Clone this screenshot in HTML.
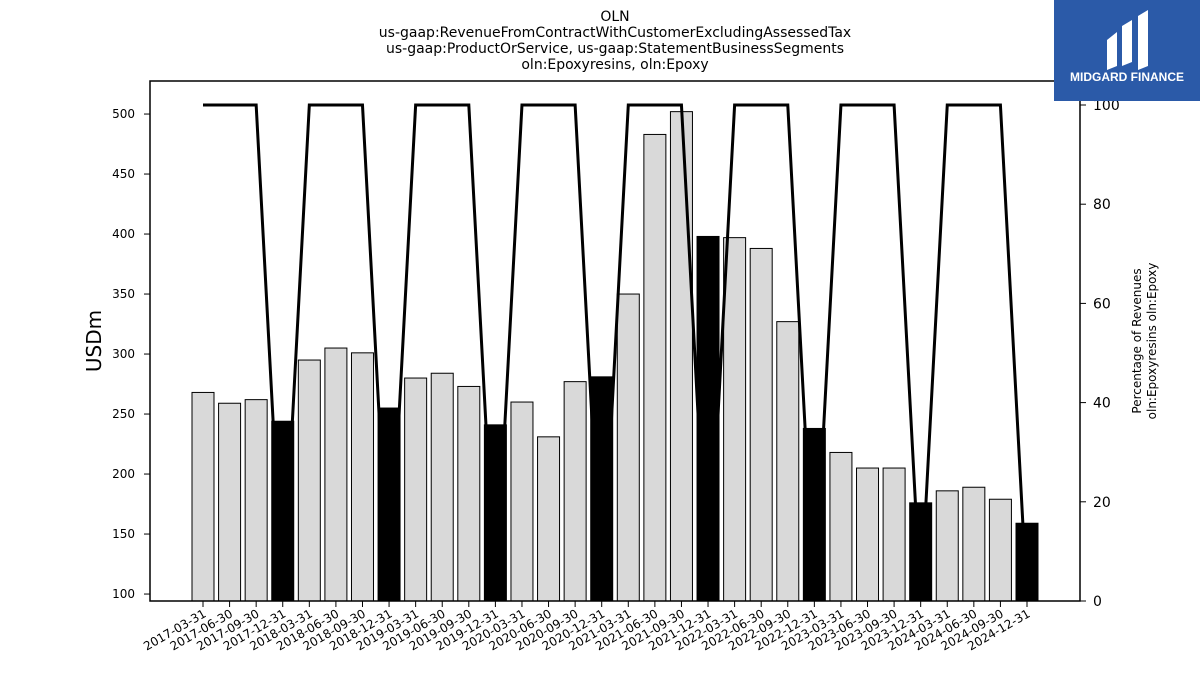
<!DOCTYPE html>
<html><head><meta charset="utf-8"><style>
body{margin:0;background:#fff;font-family:"Liberation Sans","DejaVu Sans",sans-serif;}
</style></head><body>
<svg width="1200" height="675" xmlns="http://www.w3.org/2000/svg">
<g font-family="DejaVu Sans, Liberation Sans, sans-serif" font-size="14" text-anchor="middle" fill="#000">
<text x="615" y="21">OLN</text>
<text x="615" y="37">us-gaap:RevenueFromContractWithCustomerExcludingAssessedTax</text>
<text x="615" y="53">us-gaap:ProductOrService, us-gaap:StatementBusinessSegments</text>
<text x="615" y="69">oln:Epoxyresins, oln:Epoxy</text>
</g>
<g id="bars"></g>
<g id="line"></g>
<rect x="150" y="81" width="930" height="520" fill="none" stroke="#000" stroke-width="1.5"/>
<g id="yl" font-family="DejaVu Sans, Liberation Sans, sans-serif" font-size="12"></g>
<g id="yr" font-family="DejaVu Sans, Liberation Sans, sans-serif" font-size="14"></g>
<g id="xl" font-family="DejaVu Sans, Liberation Sans, sans-serif" font-size="12"></g>
<text x="101" y="341" font-size="20" font-family="DejaVu Sans, Liberation Sans, sans-serif" text-anchor="middle" transform="rotate(-90 101 341)">USDm</text>
<g font-family="DejaVu Sans, Liberation Sans, sans-serif" font-size="12" text-anchor="middle">
<text transform="translate(1141,341) rotate(-90)">Percentage of Revenues</text>
<text transform="translate(1156,341) rotate(-90)">oln:Epoxyresins oln:Epoxy</text>
</g>
<g>
<rect x="1054" y="0" width="146" height="101" fill="#2b5aa8"/>
<path d="M1107 40 L1117 32 L1117 66 L1107 70 Z M1122 26 L1132 20 L1132 62 L1122 66 Z M1138 16 L1148 10 L1148 66 L1138 70 Z" fill="#fff"/>
<text x="1127" y="81" font-size="12" font-weight="bold" fill="#fff" text-anchor="middle" font-family="Liberation Sans, sans-serif">MIDGARD FINANCE</text>
</g>
</svg>
<script>
const categories=["2017-03-31","2017-06-30","2017-09-30","2017-12-31","2018-03-31","2018-06-30","2018-09-30","2018-12-31","2019-03-31","2019-06-30","2019-09-30","2019-12-31","2020-03-31","2020-06-30","2020-09-30","2020-12-31","2021-03-31","2021-06-30","2021-09-30","2021-12-31","2022-03-31","2022-06-30","2022-09-30","2022-12-31","2023-03-31","2023-06-30","2023-09-30","2023-12-31","2024-03-31","2024-06-30","2024-09-30","2024-12-31"];
const revenue=[268,259,262,244,295,305,301,255,280,284,273,241,260,231,277,281,350,483,502,398,397,388,327,238,218,205,205,176,186,189,179,159];
const percent=[100,100,100,0,100,100,100,0,100,100,100,0,100,100,100,0,100,100,100,0,100,100,100,0,100,100,100,0,100,100,100,0];
const leftTicks=[100,150,200,250,300,350,400,450,500];
const rightTicks=[0,20,40,60,80,100];
const NS="http://www.w3.org/2000/svg";
const xs=i=>203+i*(1027-203)/31;
const yl=v=>601-(v-94.2)*1.2;
const yr=v=>601-v*4.96;
function mk(t,a,p){const e=document.createElementNS(NS,t);for(const k in a)e.setAttribute(k,a[k]);p.appendChild(e);return e;}
const gb=document.getElementById('bars');
revenue.forEach((v,i)=>{
 const r=mk('rect',{x:xs(i)-11,y:yl(v),width:22,height:601-yl(v),fill:(i%4==3)?'#000':'#d9d9d9',stroke:'#000','stroke-width':1},gb);
 
 
});
const pl=mk('polyline',{points:percent.map((v,i)=>xs(i)+','+yr(v)).join(' '),fill:'none',stroke:'#000','stroke-width':3},document.getElementById('line'));


const gl=document.getElementById('yl');
leftTicks.forEach(t=>{
 mk('line',{x1:144,x2:150,y1:yl(t),y2:yl(t),stroke:'#000'},gl);
 const tx=mk('text',{x:135,y:yl(t)+4,'text-anchor':'end'},gl);tx.textContent=t;
 
 
});
const gr=document.getElementById('yr');
rightTicks.forEach(t=>{
 mk('line',{x1:1080,x2:1086,y1:yr(t),y2:yr(t),stroke:'#000'},gr);
 const tx=mk('text',{x:1093,y:yr(t)+5},gr);tx.textContent=t;
 
 
});
const gx=document.getElementById('xl');
categories.forEach((c,i)=>{
 mk('line',{x1:xs(i),x2:xs(i),y1:601,y2:607,stroke:'#000'},gx);
 const tx=mk('text',{x:xs(i)+4,y:616,'text-anchor':'end',transform:`rotate(-30 ${xs(i)+4} 616)`},gx);tx.textContent=c;
 
 
});
</script>
</body></html>
